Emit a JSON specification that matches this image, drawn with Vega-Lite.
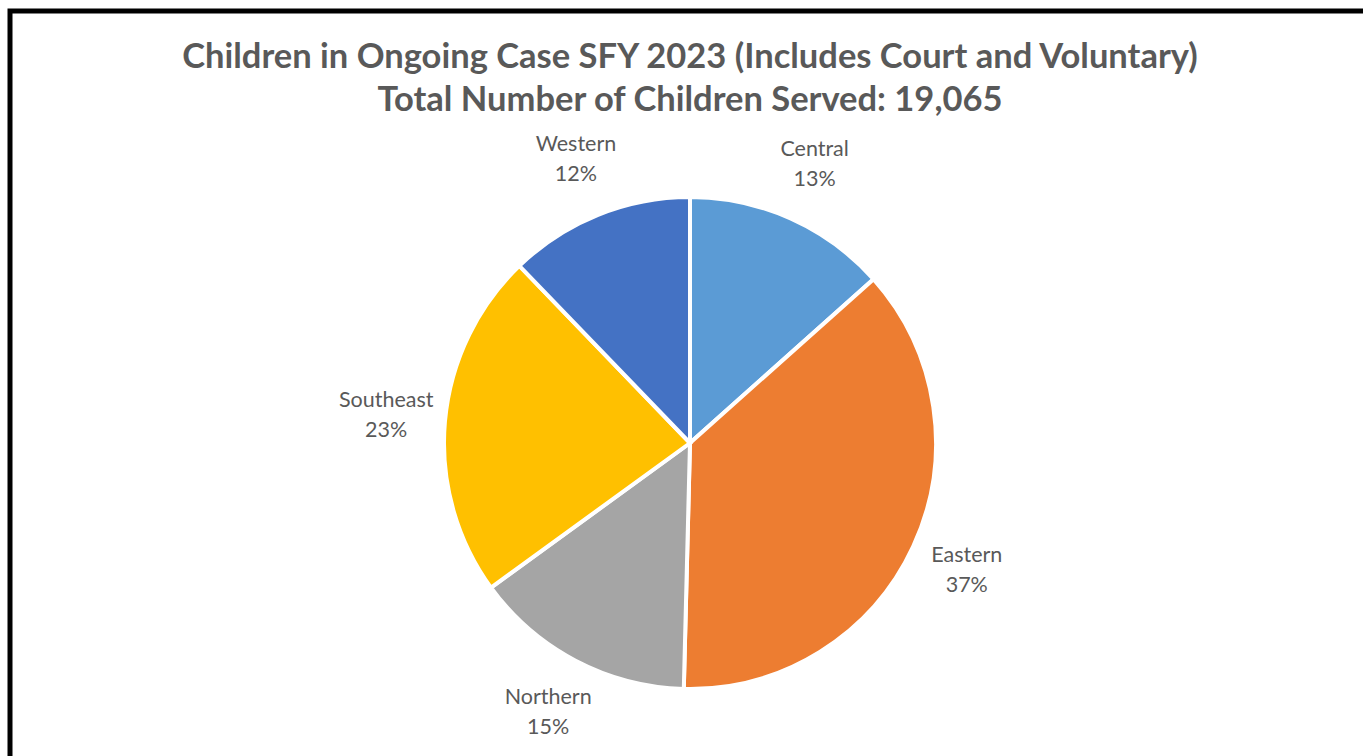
{
  "$schema": "https://vega.github.io/schema/vega-lite/v6.json",
  "width": 1363,
  "height": 756,
  "autosize": {"type": "fit", "contains": "padding"},
  "padding": {"left": 10, "top": 11, "right": -7, "bottom": -119},
  "background": "white",
  "view": {"stroke": "black", "strokeWidth": 5},
  "config": {"view": {"stroke": "black", "strokeWidth": 5}},
  "title": {
    "text": ["Children in Ongoing Case SFY 2023 (Includes Court and Voluntary)", "Total Number of Children Served: 19,065"],
    "font": "Lato",
    "fontSize": 34.5,
    "fontWeight": "bold",
    "color": "#595959",
    "anchor": "middle",
    "lineHeight": 43,
    "offset": -107
  },
  "data": {
    "values": [
      {"region": "Central", "children": 2555, "pct": "13%"},
      {"region": "Eastern", "children": 7054, "pct": "37%"},
      {"region": "Northern", "children": 2783, "pct": "15%"},
      {"region": "Southeast", "children": 4347, "pct": "23%"},
      {"region": "Western", "children": 2326, "pct": "12%"}
    ]
  },
  "layer": [
    {
      "mark": {"type": "arc", "outerRadius": 246, "stroke": "white", "strokeWidth": 4},
      "encoding": {
        "theta": {"field": "children", "type": "quantitative", "stack": true},
        "order": {"field": "region", "type": "nominal", "sort": "ascending"},
        "color": {
          "field": "region",
          "type": "nominal",
          "scale": {
            "domain": ["Central", "Eastern", "Northern", "Southeast", "Western"],
            "range": ["#5B9BD5", "#ED7D31", "#A5A5A5", "#FFC000", "#4472C4"]
          },
          "legend": null
        }
      }
    },
    {
      "mark": {"type": "text", "radius": 305, "font": "Lato", "fontSize": 21.5, "color": "#595959", "dy": -15},
      "encoding": {
        "theta": {"field": "children", "type": "quantitative", "stack": true},
        "order": {"field": "region", "type": "nominal", "sort": "ascending"},
        "detail": {"field": "region", "type": "nominal"},
        "text": {"field": "region", "type": "nominal"}
      }
    },
    {
      "mark": {"type": "text", "radius": 305, "font": "Lato", "fontSize": 21.5, "color": "#595959", "dy": 15},
      "encoding": {
        "theta": {"field": "children", "type": "quantitative", "stack": true},
        "order": {"field": "region", "type": "nominal", "sort": "ascending"},
        "detail": {"field": "region", "type": "nominal"},
        "text": {"field": "pct", "type": "nominal"}
      }
    }
  ]
}
